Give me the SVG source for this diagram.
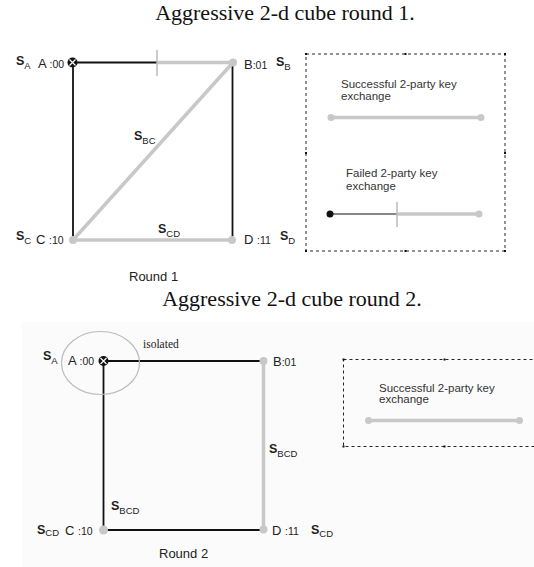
<svg xmlns="http://www.w3.org/2000/svg" width="534" height="567" viewBox="0 0 534 567">
<style>
.title{font-family:"Liberation Serif",serif;font-size:22px;fill:#111}
.lbl{font-family:"Liberation Sans",Arial,sans-serif;font-size:13px;fill:#222}
.sm{font-size:10.5px}
.s{font-family:"Liberation Sans",Arial,sans-serif;font-size:12.5px;font-weight:bold;fill:#222}
.sub{font-size:9.5px;font-weight:normal}
.leg{font-family:"Liberation Sans",Arial,sans-serif;font-size:11.5px;fill:#333}
.blk{stroke:#111;stroke-width:1.8;fill:none}
.gry{stroke:#c8c8c8;stroke-width:3.5;fill:none}
.dot{fill:#c8c8c8}
.box{fill:none;stroke:#223;stroke-width:1;stroke-dasharray:3 3}
.h{fill:#111}
</style>
<rect x="22" y="322" width="512" height="245" fill="#fbfbfb"/>
<text class="title" x="285" y="20" text-anchor="middle">Aggressive 2-d cube round 1.</text>
<text class="title" x="292" y="306" text-anchor="middle">Aggressive 2-d cube round 2.</text>

<g id="connectors1">
<line class="blk" x1="73" y1="62.5" x2="157" y2="62.5"/>
<line class="gry" x1="157" y1="62.5" x2="233" y2="62.5"/>
<line x1="157" y1="50" x2="157" y2="76" stroke="#bbb" stroke-width="1.5"/>
<line class="blk" x1="73" y1="62.5" x2="73" y2="240"/>
<line class="blk" x1="232.5" y1="62.5" x2="232.5" y2="240"/>
<line class="gry" x1="233" y1="62.5" x2="73" y2="240"/>
<line class="gry" x1="73" y1="240" x2="232" y2="240"/>
</g>
<g id="r1-A">
<circle cx="72.5" cy="62.5" r="5" fill="#111"/>
<path d="M69.5 59.5L75.5 65.5M75.5 59.5L69.5 65.5" stroke="#fff" stroke-width="1.2"/>
<text class="s" x="16" y="65">S<tspan class="sub" dy="4">A</tspan></text>
<text class="lbl" x="38" y="68">A <tspan class="sm">:00</tspan></text>
</g>
<g id="r1-B">
<circle class="dot" cx="233" cy="62.5" r="4"/>
<text class="lbl" x="244" y="69">B<tspan class="sm">:01</tspan></text>
<text class="s" x="276" y="66">S<tspan class="sub" dy="4">B</tspan></text>
</g>
<g id="r1-C">
<circle class="dot" cx="73" cy="240" r="4"/>
<text class="s" x="16" y="240">S<tspan class="sub" dy="4">C</tspan></text>
<text class="lbl" x="36" y="244">C <tspan class="sm">:10</tspan></text>
</g>
<g id="r1-D">
<circle class="dot" cx="232" cy="240" r="4"/>
<text class="lbl" x="244" y="244">D <tspan class="sm">:11</tspan></text>
<text class="s" x="280" y="240">S<tspan class="sub" dy="4">D</tspan></text>
</g>
<g id="r1-labels">
<text class="s" x="134" y="140">S<tspan class="sub" dy="4">BC</tspan></text>
<text class="s" x="158" y="233">S<tspan class="sub" dy="4">CD</tspan></text>
<text class="lbl" x="129" y="281">Round 1</text>
</g>
<g id="legend1">
<rect class="box" x="306" y="54" width="199" height="197"/>
<rect class="h" x="305" y="53" width="2" height="2"/><rect class="h" x="404.5" y="53" width="2" height="2"/><rect class="h" x="504" y="53" width="2" height="2"/>
<rect class="h" x="305" y="152" width="2" height="2"/><rect class="h" x="504" y="152" width="2" height="2"/>
<rect class="h" x="305" y="250" width="2" height="2"/><rect class="h" x="404.5" y="250" width="2" height="2"/><rect class="h" x="504" y="250" width="2" height="2"/>
<text class="leg" x="341" y="88">Successful 2-party key</text>
<text class="leg" x="341" y="99.5">exchange</text>
<line class="gry" x1="331" y1="117.5" x2="481" y2="117.5"/>
<circle class="dot" cx="331" cy="117.5" r="3.5"/><circle class="dot" cx="481" cy="117.5" r="3.5"/>
<text class="leg" x="346" y="177">Failed 2-party key</text>
<text class="leg" x="346" y="190">exchange</text>
<line x1="330" y1="214" x2="397" y2="214" stroke="#111" stroke-width="1.2"/>
<line class="gry" x1="397" y1="214" x2="479" y2="214"/>
<line x1="397" y1="202" x2="397" y2="227" stroke="#bbb" stroke-width="1.5"/>
<circle cx="330" cy="214" r="3.5" fill="#111"/><circle class="dot" cx="479" cy="214" r="3.5"/>
</g>

<g id="connectors2">
<line class="blk" x1="103.5" y1="361" x2="263.5" y2="361"/>
<line class="blk" x1="103.5" y1="361" x2="103.5" y2="530"/>
<line class="blk" x1="103.5" y1="530" x2="263.5" y2="530"/>
<line class="gry" x1="263.5" y1="361" x2="263.5" y2="530"/>
</g>
<g id="r2-A">
<ellipse cx="100.5" cy="363" rx="39" ry="31.5" fill="none" stroke="#bbb" stroke-width="1.2"/>
<text x="143" y="348" font-family="Liberation Serif,serif" font-size="11.5" fill="#222">isolated</text>
<circle cx="103.5" cy="361" r="5" fill="#111"/>
<path d="M100.5 358L106.5 364M106.5 358L100.5 364" stroke="#fff" stroke-width="1.2"/>
<text class="s" x="43" y="360">S<tspan class="sub" dy="4">A</tspan></text>
<text class="lbl" x="68" y="365">A <tspan class="sm">:00</tspan></text>
</g>
<g id="r2-B">
<circle class="dot" cx="263.5" cy="361" r="4"/>
<text class="lbl" x="273" y="366">B<tspan class="sm">:01</tspan></text>
</g>
<g id="r2-C">
<circle class="dot" cx="103.5" cy="530" r="4.5"/>
<text class="s" x="37" y="534">S<tspan class="sub" dy="2">CD</tspan></text>
<text class="lbl" x="65" y="535">C <tspan class="sm">:10</tspan></text>
</g>
<g id="r2-D">
<circle class="dot" cx="263.5" cy="529.5" r="4"/>
<text class="lbl" x="272" y="535">D <tspan class="sm">:11</tspan></text>
<text class="s" x="311" y="534">S<tspan class="sub" dy="3">CD</tspan></text>
</g>
<g id="r2-labels">
<text class="s" x="269" y="453">S<tspan class="sub" dy="4">BCD</tspan></text>
<text class="s" x="111" y="510">S<tspan class="sub" dy="4">BCD</tspan></text>
<text class="lbl" x="159" y="558">Round 2</text>
</g>
<g id="legend2">
<rect class="box" x="343.5" y="359.5" width="202" height="87"/>
<rect class="h" x="342.5" y="358.5" width="2" height="2"/><rect class="h" x="443.5" y="358.5" width="2" height="2"/>
<rect class="h" x="342.5" y="445.5" width="2" height="2"/><rect class="h" x="443.5" y="445.5" width="2" height="2"/>
<text class="leg" x="379" y="391.5">Successful 2-party key</text>
<text class="leg" x="379" y="403">exchange</text>
<line class="gry" x1="368.5" y1="420.5" x2="519.5" y2="420.5"/>
<circle class="dot" cx="368.5" cy="420.5" r="3.5"/><circle class="dot" cx="519.5" cy="420.5" r="3.5"/>
</g>
</svg>
